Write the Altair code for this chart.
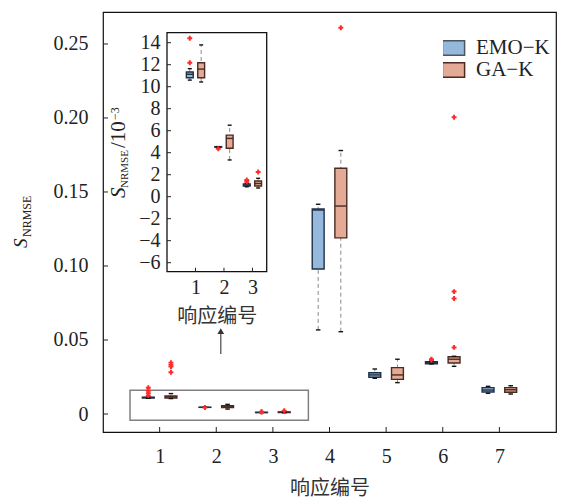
import altair as alt
import pandas as pd

METHODS = ["EMO−K", "GA−K"]
GROUPS = [1, 2, 3, 4, 5, 6, 7]

# main chart box statistics (S_NRMSE)
emo_low  = [0.01060, 0.00450, 0.00090, 0.0568, 0.0241, 0.0338, 0.0140]
emo_q1   = [0.01082, 0.00450, 0.00097, 0.0980, 0.0248, 0.0340, 0.0149]
emo_med  = [0.01113, 0.00450, 0.00105, 0.1378, 0.0264, 0.0347, 0.0162]
emo_q3   = [0.01134, 0.00455, 0.00115, 0.1385, 0.0279, 0.0353, 0.0178]
emo_high = [0.01164, 0.00455, 0.00120, 0.1417, 0.0304, 0.0356, 0.0187]
ga_low   = [0.01043, 0.00334, 0.00079, 0.0556, 0.0212, 0.0322, 0.0135]
ga_q1    = [0.01082, 0.00440, 0.00097, 0.1190, 0.0234, 0.0345, 0.0147]
ga_med   = [0.01160, 0.00530, 0.00120, 0.1405, 0.0264, 0.0370, 0.0164]
ga_q3    = [0.01218, 0.00560, 0.00143, 0.1660, 0.0313, 0.0387, 0.0178]
ga_high  = [0.01380, 0.00650, 0.00167, 0.1780, 0.0370, 0.0390, 0.0191]

emo_out_group = [1, 1, 1, 1, 2, 3, 3, 6, 6]
emo_out_value = [0.0124, 0.0140, 0.0157, 0.0178, 0.00436, 0.00136, 0.00152, 0.0365, 0.0370]
ga_out_group = [1, 1, 1, 1, 3, 4, 6, 6, 6, 6]
ga_out_value = [0.0282, 0.0320, 0.0333, 0.0347, 0.00225, 0.261, 0.0450, 0.0780, 0.0827, 0.2005]

main_yticks = [0, 0.05, 0.10, 0.15, 0.20, 0.25]

# inset (S_NRMSE / 10^-3), responses 1-3
INSET_GROUPS = [1, 2, 3]
in_emo_low  = [10.60, 4.50, 0.90]
in_emo_q1   = [10.82, 4.50, 0.97]
in_emo_med  = [11.13, 4.50, 1.05]
in_emo_q3   = [11.34, 4.55, 1.15]
in_emo_high = [11.64, 4.55, 1.20]
in_ga_low   = [10.43, 3.34, 0.79]
in_ga_q1    = [10.82, 4.40, 0.97]
in_ga_med   = [11.60, 5.30, 1.20]
in_ga_q3    = [12.18, 5.60, 1.43]
in_ga_high  = [13.80, 6.50, 1.67]
in_emo_out_group = [1, 1, 2, 3, 3]
in_emo_out_value = [12.18, 14.40, 4.36, 1.36, 1.52]
in_ga_out_group = [3]
in_ga_out_value = [2.25]
inset_yticks = [-6, -4, -2, 0, 2, 4, 6, 8, 10, 12, 14]

BLUE, SALMON = "#95b9dc", "#e3ab96"
NAVY, BROWN = "#1f3047", "#4a2a21"
RED = "#ff2a2a"
SERIF = "Liberation Serif"
CJK = "Noto Sans CJK SC"

W, H = 453, 420


def boxes(groups, stats, offset, halfw, capw):
    rows = []
    for method, (lo, q1, md, q3, hi), off in zip(METHODS, stats, offset):
        for i, g in enumerate(groups):
            xc = g + off
            rows.append(dict(group=g, method=method, xc=xc, xl=xc - halfw, xr=xc + halfw,
                             cl=xc - capw, cr=xc + capw, low=lo[i], q1=q1[i], med=md[i],
                             q3=q3[i], high=hi[i]))
    return pd.DataFrame(rows)


def outliers(eg, ev, gg, gv, offset):
    rows = [dict(method=METHODS[0], x=g + offset[0], v=v) for g, v in zip(eg, ev)]
    rows += [dict(method=METHODS[1], x=g + offset[1], v=v) for g, v in zip(gg, gv)]
    return pd.DataFrame(rows)


main_df = boxes(GROUPS, [(emo_low, emo_q1, emo_med, emo_q3, emo_high),
                         (ga_low, ga_q1, ga_med, ga_q3, ga_high)], (-0.2, 0.2), 0.105, 0.04)
main_out = outliers(emo_out_group, emo_out_value, ga_out_group, ga_out_value, (-0.2, 0.2))
inset_df = boxes(INSET_GROUPS, [(in_emo_low, in_emo_q1, in_emo_med, in_emo_q3, in_emo_high),
                                (in_ga_low, in_ga_q1, in_ga_med, in_ga_q3, in_ga_high)],
                 (-0.2, 0.2), 0.12, 0.07)
inset_out = outliers(in_emo_out_group, in_emo_out_value, in_ga_out_group, in_ga_out_value, (-0.2, 0.2))

fill_scale = alt.Scale(domain=METHODS, range=[BLUE, SALMON])
# stroke scale lists the same categories in reverse order so that its legend stays separate
stroke_scale = alt.Scale(domain=METHODS[::-1], range=[BROWN, NAVY])


class Frame:
    """Shared x/y scale + axis definitions for one panel."""

    def __init__(self, xs, ys, xaxis, yaxis):
        self.xs, self.ys, self.xaxis, self.yaxis = xs, ys, xaxis, yaxis

    def X(self, f):
        return alt.X(f, type="quantitative", scale=self.xs, axis=self.xaxis)

    def Y(self, f):
        return alt.Y(f, type="quantitative", scale=self.ys, axis=self.yaxis)


def box_layers(df, out, fr, fill_legend, stroke_legend):
    base = alt.Chart(df)
    whisk = base.mark_rule(color="#8a8a8a", strokeDash=[4, 3], strokeWidth=1).encode(
        x=fr.X("xc"), y=fr.Y("low"), y2="high:Q")
    box = base.mark_rect(strokeWidth=1.4).encode(
        x=fr.X("xl"), x2="xr:Q", y=fr.Y("q1"), y2="q3:Q",
        fill=alt.Fill("method:N", scale=fill_scale, legend=fill_legend),
        stroke=alt.Stroke("method:N", scale=stroke_scale, legend=stroke_legend))
    med = base.mark_rule(strokeWidth=1.4).encode(
        x=fr.X("xl"), x2="xr:Q", y=fr.Y("med"),
        stroke=alt.Stroke("method:N", scale=stroke_scale, legend=stroke_legend))
    caps = base.transform_fold(["low", "high"], as_=["k", "cv"]).mark_rule(
        color="#111", strokeWidth=1.4).encode(x=fr.X("cl"), x2="cr:Q", y=fr.Y("cv"))
    pts = alt.Chart(out).mark_point(shape="cross", filled=True, size=24, color=RED, opacity=1).encode(
        x=fr.X("x"), y=fr.Y("v"))
    return [whisk, box, med, caps, pts]


AXCOMMON = dict(grid=False, ticks=False, domain=False, zindex=1,
                labelFont=SERIF, labelFontSize=20, labelColor="#222",
                titleFont=CJK, titleFontSize=20, titleFontWeight="normal", titleColor="#333")

main_fr = Frame(
    alt.Scale(domain=[0, 8], nice=False, zero=False),
    alt.Scale(domain=[-0.01216, 0.2716], nice=False, zero=False),
    alt.Axis(values=GROUPS, format="d", title="响应编号", labelPadding=14, titlePadding=12,
             **AXCOMMON),
    alt.Axis(values=main_yticks, title=None, labelPadding=15,
             labelExpr="datum.value == 0 ? '0' : format(datum.value, '.2f')", **AXCOMMON),
)

LEG = dict(orient="none", legendX=340, title=None,
           symbolType="M-1.85,-1.2H1.85V1.2H-1.85Z", symbolSize=144,
           symbolStrokeWidth=1.5, labelFont=SERIF, labelFontSize=21, labelColor="#222",
           labelOffset=12, clipHeight=16, padding=0)
legend_emo = alt.Legend(values=[METHODS[0]], legendY=28, symbolStrokeColor="#4d5560", **LEG)
legend_ga = alt.Legend(values=[METHODS[1]], legendY=50, symbolFillColor=SALMON, **LEG)

main_layers = box_layers(main_df, main_out, main_fr, legend_emo, legend_ga)

# zoom box around responses 1-3 and arrow
zoom_box = alt.Chart(pd.DataFrame({"x1": [0.477], "x2": [3.627], "y1": [-0.0043], "y2": [0.016]})).mark_rect(
    fill=None, stroke="#808080", strokeWidth=1.5).encode(
    x=main_fr.X("x1"), x2="x2:Q", y=main_fr.Y("y1"), y2="y2:Q")
arrow_df = pd.DataFrame({"x": [2.08], "y1": [0.0405], "y2": [0.0560]})
arrow_line = alt.Chart(arrow_df).mark_rule(color="#555", strokeWidth=1.3).encode(
    x=main_fr.X("x"), y=main_fr.Y("y1"), y2="y2:Q")
arrow_head = alt.Chart(arrow_df).mark_point(shape="triangle-up", filled=True, size=45,
                                            color="#333", opacity=1).encode(
    x=main_fr.X("x"), y=main_fr.Y("y2"))

# inward ticks
main_ytick = alt.Chart(pd.DataFrame({"v": main_yticks})).mark_rule(color="#222", strokeWidth=1).encode(
    x=alt.value(0), x2=alt.value(5), y=main_fr.Y("v"))
main_xtick = alt.Chart(pd.DataFrame({"g": GROUPS})).mark_rule(color="#222", strokeWidth=1).encode(
    x=main_fr.X("g"), y=alt.value(H), y2=alt.value(H - 5))


def txt(t, x, y, size, italic=False, font=SERIF):
    kw = dict(angle=270, align="left", baseline="alphabetic", font=font, fontSize=size,
              color="#222", text=t)
    if italic:
        kw["fontStyle"] = "italic"
    return alt.Chart(pd.DataFrame({"t": [t]})).mark_text(**kw).encode(x=alt.value(x), y=alt.value(y))


main_title = [txt("S", -76, 236, 19, italic=True), txt("NRMSE", -72, 225, 12)]

main = alt.layer(zoom_box, *main_layers, arrow_line, arrow_head, main_ytick, main_xtick, *main_title)

# inset
IX0, IX1 = 64, 163.7
IY0, IY1 = 259.7, 20.7
in_fr = Frame(
    alt.Scale(domain=[0, 3.5], range=[IX0, IX1], nice=False, zero=False),
    alt.Scale(domain=[-6.82, 14.91], range=[IY0, IY1], nice=False, zero=False),
    alt.Axis(orient="bottom", offset=-(H - IY0), values=INSET_GROUPS, format="d",
             title="响应编号", labelPadding=6, titlePadding=9, **AXCOMMON),
    alt.Axis(orient="left", offset=-IX0, values=inset_yticks, title=None, labelPadding=7,
             **AXCOMMON),
)

in_frame = alt.Chart(pd.DataFrame({"x1": [0], "x2": [3.5], "y1": [-6.82], "y2": [14.91]})).mark_rect(
    fill="white", stroke="#111", strokeWidth=1.3).encode(
    x=in_fr.X("x1"), x2="x2:Q", y=in_fr.Y("y1"), y2="y2:Q")
inset_layers = box_layers(inset_df, inset_out, in_fr, None, None)
in_ytick = alt.Chart(pd.DataFrame({"v": inset_yticks})).mark_rule(color="#222", strokeWidth=1).encode(
    x=alt.value(IX0), x2=alt.value(IX0 + 4), y=in_fr.Y("v"))
in_xtick = alt.Chart(pd.DataFrame({"g": INSET_GROUPS})).mark_rule(color="#222", strokeWidth=1).encode(
    x=in_fr.X("g"), y=alt.value(IY0), y2=alt.value(IY0 - 4))
in_title = [txt("S", 22, 186, 21, italic=True), txt("NRMSE", 24.5, 176, 11),
            txt("/10", 22, 136, 21), txt("−3", 16, 108, 12)]

inset = alt.layer(in_frame, *inset_layers, in_ytick, in_xtick, *in_title)

chart = alt.layer(main, inset).resolve_scale(x="independent", y="independent").properties(
    width=W, height=H, background="white",
    padding={"left": 103, "top": 12, "right": 12, "bottom": 68},
    autosize=alt.AutoSizeParams(type="none"),
).configure_view(stroke="#111", strokeWidth=1.2)

chart.save("out.html", embed_options={"renderer": "svg", "actions": False})
